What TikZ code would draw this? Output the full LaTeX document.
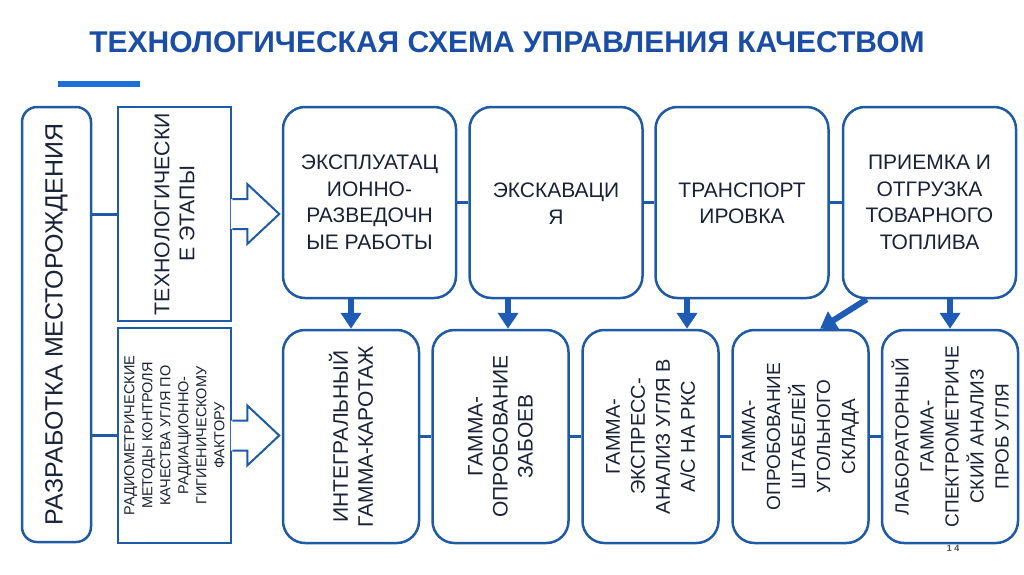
\documentclass[tikz,border=0pt]{standalone}
\usepackage{fontspec}
\setmainfont{Liberation Sans}
\usetikzlibrary{arrows.meta,calc}
\definecolor{boxblue}{HTML}{1F5AA6}
\definecolor{arrblue}{HTML}{1D5BB5}
\definecolor{titleblue}{HTML}{1A4DA6}
\definecolor{barblue}{HTML}{1E6FD9}
\definecolor{txtcol}{HTML}{1A2238}
\tikzset{
  rbox/.style={draw=boxblue, line width=2.5pt, rounded corners=22pt, fill=white, inner sep=0pt},
  sbox/.style={draw=boxblue, line width=2.5pt, fill=white, inner sep=0pt},
  txt/.style={text=txtcol, align=center, inner sep=0pt},
  conn/.style={draw=boxblue, line width=3pt},
  varrow/.style={draw=arrblue, line width=6pt, -{Triangle[width=20pt,length=16pt]}},
  blockarrow/.style={draw=boxblue, line width=2pt, line join=miter},
}
\begin{document}
\begin{tikzpicture}[x=1pt,y=-1pt]
\useasboundingbox (0,0) rectangle (1024,574);
% title
\node[text=titleblue, font=\bfseries\fontsize{30}{34}\selectfont, anchor=base] (title) at (507,52.5) {ТЕХНОЛОГИЧЕСКАЯ СХЕМА УПРАВЛЕНИЯ КАЧЕСТВОМ};
\fill[barblue] (58,81) rectangle (140,87);
% left column
\node[rbox, rounded corners=15pt, minimum width=69pt, minimum height=435pt] (L) at (56.5,324.5) {};
\node[txt, rotate=90, font=\fontsize{25}{30}\selectfont] (Lt) at (L) {РАЗРАБОТКА МЕСТОРОЖДЕНИЯ};
\node[sbox, minimum width=113pt, minimum height=214pt] (s1) at (174.5,214) {};
\node[txt, rotate=90, font=\fontsize{21.3}{25}\selectfont] (s1t) at (s1) {ТЕХНОЛОГИЧЕСКИ\\Е ЭТАПЫ};
\node[sbox, minimum width=113pt, minimum height=215pt] (s2) at (174.5,435.5) {};
\node[txt, rotate=90, font=\fontsize{14.5}{18}\selectfont] (s2t) at (s2) {РАДИОМЕТРИЧЕСКИЕ\\МЕТОДЫ КОНТРОЛЯ\\КАЧЕСТВА УГЛЯ ПО\\РАДИАЦИОННО-\\ГИГИЕНИЧЕСКОМУ\\ФАКТОРУ};
\draw[conn] (L.east |- s1.west) -- (s1.west);
\draw[conn] (L.east |- s2.west) -- (s2.west);
% block arrows
\foreach \s in {s1,s2}{
  \fill[white] ($(\s.east)+(-1.5,-15)$) -- ($(\s.east)+(15,-15)$) -- ($(\s.east)+(15,-30)$) -- ($(\s.east)+(47,0)$) -- ($(\s.east)+(15,30)$) -- ($(\s.east)+(15,15)$) -- ($(\s.east)+(-1.5,15)$) -- cycle;
  \draw[blockarrow] ($(\s.east)+(0,-15)$) -- ($(\s.east)+(15,-15)$) -- ($(\s.east)+(15,-30)$) -- ($(\s.east)+(47,0)$) -- ($(\s.east)+(15,30)$) -- ($(\s.east)+(15,15)$) -- ($(\s.east)+(0,15)$);
}
% top row
\tikzset{tfont/.style={txt, font=\fontsize{21}{26.5}\selectfont}}
\node[rbox, minimum width=173pt, minimum height=191pt] (t1) at (369.5,202.5) {};
\node[rbox, minimum width=173pt, minimum height=191pt] (t2) at (556,202.5) {};
\node[rbox, minimum width=173pt, minimum height=191pt] (t3) at (742,202.5) {};
\node[rbox, minimum width=173pt, minimum height=191pt] (t4) at (929.5,202.5) {};
\node[tfont] (t1t) at (t1) {ЭКСПЛУАТАЦ\\ИОННО-\\РАЗВЕДОЧН\\ЫЕ РАБОТЫ};
\node[tfont] (t2t) at ($(t2)+(0,1)$) {ЭКСКАВАЦИ\\Я};
\node[tfont] (t3t) at ($(t3)+(0,1)$) {ТРАНСПОРТ\\ИРОВКА};
\node[tfont] (t4t) at (t4) {ПРИЕМКА И\\ОТГРУЗКА\\ТОВАРНОГО\\ТОПЛИВА};
\draw[conn] (t1.east) -- (t2.west);
\draw[conn] (t2.east) -- (t3.west);
\draw[conn] (t3.east) -- (t4.west);
% bottom row
\foreach \n/\x in {b1/351,b2/500.5,b3/650.5,b4/800.5,b5/950}{
  \node[rbox, minimum width=136pt, minimum height=213pt] (\n) at (\x,436.5) {};
}
\node[txt, rotate=90, font=\fontsize{21}{25}\selectfont] (b1t) at (b1) {ИНТЕГРАЛЬНЫЙ\\ГАММА-КАРОТАЖ};
\node[txt, rotate=90, font=\fontsize{21}{25}\selectfont] (b2t) at (b2) {ГАММА-\\ОПРОБОВАНИЕ\\ЗАБОЕВ};
\node[txt, rotate=90, font=\fontsize{20}{25}\selectfont] (b3t) at (b3) {ГАММА-\\ЭКСПРЕСС-\\АНАЛИЗ УГЛЯ В\\А/С НА РКС};
\node[txt, rotate=90, font=\fontsize{19}{25}\selectfont] (b4t) at (b4) {ГАММА-\\ОПРОБОВАНИЕ\\ШТАБЕЛЕЙ\\УГОЛЬНОГО\\СКЛАДА};
\node[txt, rotate=90, font=\fontsize{19}{25}\selectfont] (b5t) at (b5) {ЛАБОРАТОРНЫЙ\\ГАММА-\\СПЕКТРОМЕТРИЧЕ\\СКИЙ АНАЛИЗ\\ПРОБ УГЛЯ};
\draw[conn] (b1.east) -- (b2.west);
\draw[conn] (b2.east) -- (b3.west);
\draw[conn] (b3.east) -- (b4.west);
\draw[conn] (b4.east) -- (b5.west);
% vertical arrows
\coordinate (a2) at ($(b2.north)+(7.5,0)$);
\coordinate (a3) at ($(b3.north)+(36.5,0)$);
\coordinate (a4) at ($(b4.north)+(19.5,0)$);
\coordinate (a4s) at ($(t4.south west)+(25,0)$);
\draw[varrow] (t1.south -| b1.north) -- (b1.north);
\draw[varrow] (a2 |- t2.south) -- (a2);
\draw[varrow] (a3 |- t3.south) -- (a3);
\draw[varrow] (a4s) -- (a4);
\draw[varrow] (t4.south -| b5.north) -- (b5.north);
% page number
\node[text=black!70, font=\bfseries\fontsize{9}{10}\selectfont] (pg) at (953,548.5) {1 4};
\end{tikzpicture}
\end{document}
